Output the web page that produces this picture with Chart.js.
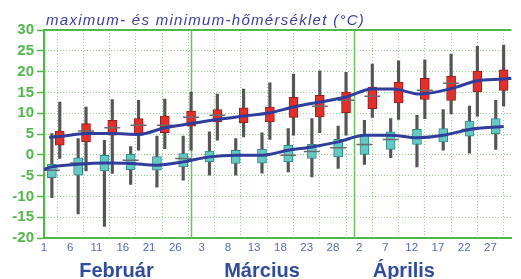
<!DOCTYPE html>
<html>
<head>
<meta charset="utf-8">
<script src="https://cdn.jsdelivr.net/npm/chart.js@4.4.1/dist/chart.umd.min.js"></script>
<style>
  html, body { margin: 0; padding: 0; background: #fff; }
  #wrap { width: 521px; height: 279px; position: relative; }
</style>
</head>
<body>
<div id="wrap"><canvas id="temps"></canvas></div>
<script>
// day index: 0 = 1 Feb, 28 = 1 Mar, 59 = 1 Apr
const tickDays = [0, 5, 10, 15, 20, 25, 30, 35, 40, 45, 50, 55, 60, 65, 70, 75, 80, 85]
const tickLabels = ['1', '6', '11', '16', '21', '26', '3', '8', '13', '18', '23', '28', '2', '7', '12', '17', '22', '27']
const months = ['Február', 'Március', 'Április']
const monthCenters = [13.8, 41.5, 68.5]
const monthStarts = [28, 59]

// maximum temperatures (red), one box per 5 days
const redDays  = [3, 8, 13, 18, 23, 28, 33, 38, 43, 47.5, 52.5, 57.5, 62.5, 67.5, 72.5, 77.5, 82.5, 87.5]
const redLow   = [2.3, 3.1, 4.7, 4.7, 5.3, 6.9, 7.9, 7.7, 7.9, 9.0, 9.1, 10.1, 11.1, 12.5, 13.3, 13.1, 15.1, 15.5]
const redHigh  = [5.7, 7.5, 8.3, 8.7, 9.3, 10.5, 10.9, 11.3, 11.5, 13.8, 14.3, 15.1, 16.3, 17.5, 18.4, 18.9, 20.1, 20.4]
const redMin   = [-0.9, -3.9, -4.5, 1.1, 1.5, 1.1, 3.5, 4.3, 3.7, 4.7, 5.3, 4.7, 9.0, 8.5, 8.7, 9.8, 9.3, 11.7]
const redMax   = [12.7, 11.5, 13.3, 13.1, 13.4, 15.1, 14.6, 15.8, 17.3, 19.4, 20.2, 19.8, 21.8, 22.6, 22.8, 24.2, 26.1, 26.4]
const redMark  = [4.5, 5.7, 6.5, 7.1, 7.1, 9.0, 9.5, null, null, null, 11.7, 13.1, 14.1, null, 15.5, 17.2, null, 18.2]

// minimum temperatures (cyan)
const cyanDays = [1.5, 6.5, 11.5, 16.5, 21.5, 26.5, 31.5, 36.5, 41.5, 46.5, 51, 56, 61, 66, 71, 76, 81, 86]
const cyanLow  = [-5.5, -4.9, -3.9, -3.6, -3.7, -2.9, -1.7, -2.1, -2.0, -1.7, -0.9, -0.5, 0.1, 1.3, 2.5, 3.1, 4.5, 5.1]
const cyanHigh = [-2.3, -0.7, -0.1, 0.1, -0.4, 0.3, 0.9, 1.1, 1.3, 2.3, 2.5, 3.7, 4.7, 5.5, 6.1, 6.3, 8.1, 8.7]
const cyanMin  = [-10.3, -14.2, -17.2, -7.1, -7.8, -6.1, -4.9, -4.9, -4.4, -4.1, -5.3, -3.3, -2.3, -0.7, -2.9, 1.1, 0.4, 1.3]
const cyanMax  = [5.1, 3.9, 3.5, 2.0, 4.5, 4.5, 5.5, 3.9, 5.3, 6.3, 8.7, 6.9, 8.3, 8.7, 9.5, 10.9, 11.7, 13.1]
const cyanMark = [-3.7, -2.0, null, -1.3, null, -0.9, null, null, null, -0.1, 0.8, 1.7, 2.5, 3.7, null, null, 6.1, 6.7]

// smoothed averages (blue lines)
const maxLineDays = [1, 3, 8, 13, 18, 23, 28, 33, 38, 43, 47.5, 52.5, 57.5, 62.5, 66.5, 71.5, 77.5, 82.5, 87.5, 89]
const maxLine     = [4.2, 4.4, 5.1, 5.1, 4.9, 6.5, 7.5, 8.5, 9.3, 10.1, 11.5, 12.7, 13.9, 15.8, 15.8, 14.6, 15.9, 17.8, 18.2, 18.4]
const minLineDays = [0, 1.5, 6.5, 11.5, 16.5, 21.5, 26.5, 31.5, 36.5, 41.5, 46.5, 51, 56, 61, 66, 71, 76, 81, 86, 87.5]
const minLine     = [-3.5, -2.9, -2.3, -2.0, -2.1, -2.5, -1.7, -0.5, -0.1, -0.1, 1.1, 1.9, 3.1, 4.7, 4.7, 4.1, 4.7, 6.1, 6.7, 6.8]

const GREEN = '#50b848'
const GRID = '#96d08c'
const BLUE = '#2f3d9c'
const WHISKER = '#555555'

const pairs = (xs, lo, hi) => xs.map((x, i) => ({ x: x, y: [lo[i], hi[i]] }))
const points = (xs, ys) => xs.map((x, i) => ({ x: x, y: ys[i] })).filter(p => p.y !== null)

const decorations = {
    id: 'decorations',
    beforeDatasetsDraw(chart) {
        const { ctx, chartArea: a, scales: { x } } = chart
        ctx.save()
        ctx.strokeStyle = '#6cc062'
        ctx.lineWidth = 1.5
        monthStarts.forEach(d => {
            const px = Math.round(x.getPixelForValue(d)) + 0.5
            ctx.beginPath()
            ctx.moveTo(px, a.top)
            ctx.lineTo(px, a.bottom)
            ctx.stroke()
        })
        ctx.strokeStyle = GREEN
        ctx.lineWidth = 2
        ctx.beginPath()
        ctx.moveTo(a.left, a.top)
        ctx.lineTo(a.right, a.top)
        ctx.stroke()
        ctx.restore()
    },
    afterDraw(chart) {
        const { ctx, scales: { x } } = chart
        ctx.save()
        ctx.fillStyle = '#3a3f9c'
        ctx.font = 'italic 15px "Liberation Sans", Arial, sans-serif'
        ctx.textBaseline = 'alphabetic'
        const title = 'maximum- és minimum-hőmérséklet (°C)'
        const w = ctx.measureText(title).width
        ctx.letterSpacing = Math.max(0, (319 - w) / title.length).toFixed(2) + 'px'
        ctx.fillText(title, 46, 25)
        ctx.letterSpacing = '0px'
        ctx.fillStyle = '#2f4b9c'
        ctx.font = 'bold 20px "Liberation Sans", Arial, sans-serif'
        ctx.textAlign = 'center'
        months.forEach((m, i) => {
            ctx.fillText(m, x.getPixelForValue(monthCenters[i]), 277)
        })
        ctx.restore()
    }
}

new Chart(document.getElementById('temps'), {
    type: 'bar',
    data: {
        datasets: [
            { data: pairs(redDays, redMin, redMax), backgroundColor: WHISKER, barThickness: 2.5, grouped: false, order: 6 },
            { data: pairs(cyanDays, cyanMin, cyanMax), backgroundColor: WHISKER, barThickness: 2.5, grouped: false, order: 6 },
            { data: pairs(redDays, redLow, redHigh), backgroundColor: '#e0302b', borderColor: '#991c1c', borderWidth: 1, borderSkipped: false, barThickness: 9, grouped: false, order: 5 },
            { data: pairs(cyanDays, cyanLow, cyanHigh), backgroundColor: '#66c8c3', borderColor: '#2f8a88', borderWidth: 1, borderSkipped: false, barThickness: 9, grouped: false, order: 5 },
            { type: 'scatter', data: points(redDays, redMark), pointStyle: 'line', pointRadius: 8, pointBorderWidth: 1.5, pointBorderColor: '#6b6b6b', order: 4 },
            { type: 'scatter', data: points(cyanDays, cyanMark), pointStyle: 'line', pointRadius: 8, pointBorderWidth: 1.5, pointBorderColor: '#6b6b6b', order: 4 },
            { type: 'line', data: points(maxLineDays, maxLine), borderColor: BLUE, borderWidth: 3, pointRadius: 0, cubicInterpolationMode: 'monotone', order: 1 },
            { type: 'line', data: points(minLineDays, minLine), borderColor: BLUE, borderWidth: 3, pointRadius: 0, cubicInterpolationMode: 'monotone', order: 1 }
        ]
    },
    options: {
        responsive: true,
        maintainAspectRatio: false,
        animation: false,
        layout: { padding: { top: 30, right: 0, left: 0, bottom: 0 } },
        plugins: { legend: { display: false }, tooltip: { enabled: false } },
        scales: {
            x: {
                type: 'linear',
                min: 0,
                max: 89,
                offset: false,
                afterBuildTicks: s => { s.ticks = tickDays.map(v => ({ value: v })) },
                afterFit: s => { s.height = 41 },
                ticks: {
                    autoSkip: false,
                    maxRotation: 0,
                    padding: 3,
                    color: '#5868b8',
                    font: { family: '"Liberation Sans", Arial, sans-serif', size: 11.5 },
                    callback: (v, i) => tickLabels[i]
                },
                grid: { color: GRID, lineWidth: 1, drawTicks: false },
                border: { color: GREEN, width: 2, dash: [1, 2] }
            },
            y: {
                min: -20,
                max: 30,
                afterFit: s => { s.width = 44 },
                ticks: {
                    stepSize: 5,
                    autoSkip: false,
                    padding: 3,
                    color: GREEN,
                    font: { family: '"Liberation Sans", Arial, sans-serif', size: 15, weight: 'bold' }
                },
                grid: { color: GRID, lineWidth: 1, tickLength: 7, tickColor: GREEN, tickWidth: 1.5, tickBorderDash: [] },
                border: { color: GREEN, width: 2, dash: [1, 2] }
            }
        }
    },
    plugins: [decorations]
})
</script>
</body>
</html>
